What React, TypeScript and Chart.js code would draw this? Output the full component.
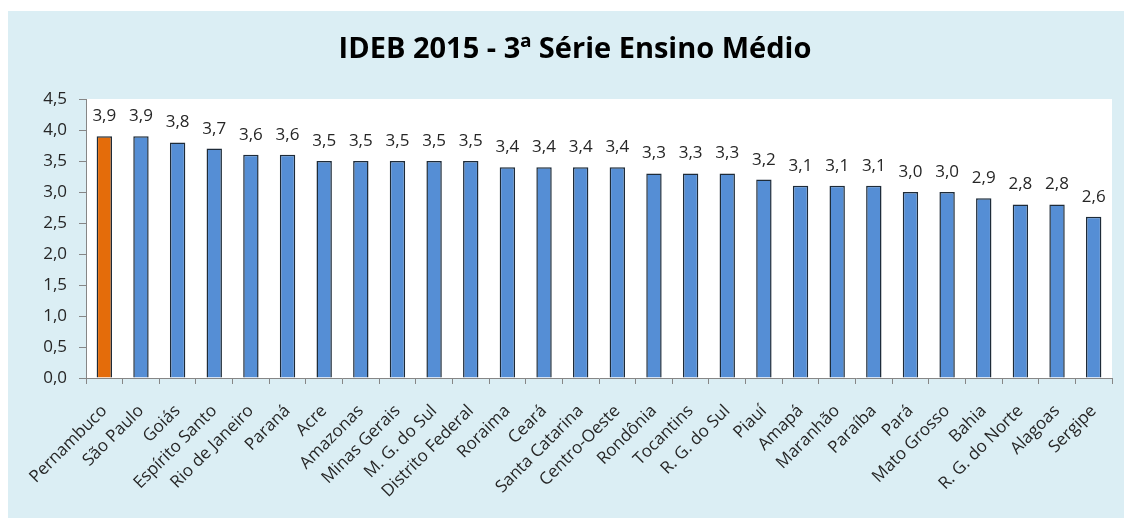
import React, { useEffect, useRef } from "react";
import { Chart, registerables } from "chart.js";

Chart.register(...registerables);

const TITLE = "IDEB 2015 - 3ª Série Ensino Médio";

const categories = [
  "Pernambuco", "São Paulo", "Goiás", "Espírito Santo", "Rio de Janeiro", "Paraná",
  "Acre", "Amazonas", "Minas Gerais", "M. G. do Sul", "Distrito Federal", "Roraima",
  "Ceará", "Santa Catarina", "Centro-Oeste", "Rondônia", "Tocantins", "R. G. do Sul",
  "Piauí", "Amapá", "Maranhão", "Paraíba", "Pará", "Mato Grosso", "Bahia",
  "R. G. do Norte", "Alagoas", "Sergipe",
];

const values = [
  3.9, 3.9, 3.8, 3.7, 3.6, 3.6, 3.5, 3.5, 3.5, 3.5, 3.5, 3.4, 3.4, 3.4, 3.4,
  3.3, 3.3, 3.3, 3.2, 3.1, 3.1, 3.1, 3.0, 3.0, 2.9, 2.8, 2.8, 2.6,
];

const highlighted = ["Pernambuco"];

const yMin = 0;
const yMax = 4.5;
const yStep = 0.5;

const BLUE = "#558ED5";
const ORANGE = "#E46C0A";
const BG = "#DBEEF4";
const AXIS = "#868686";
const TEXT = "#262626";
const FONT = "'Open Sans', sans-serif";

const fmt = (v: number) => v.toFixed(1).replace(".", ",");

const bgPlugin = {
  id: "bgPlugin",
  beforeDraw(chart: any) {
    const { ctx, chartArea } = chart;
    ctx.save();
    ctx.fillStyle = BG;
    ctx.fillRect(0, 0, chart.width, chart.height);
    ctx.fillStyle = "#FFFFFF";
    ctx.fillRect(chartArea.left, chartArea.top, chartArea.right - chartArea.left, chartArea.bottom - chartArea.top);
    ctx.restore();
  },
};

const titlePlugin = {
  id: "titlePlugin",
  afterDraw(chart: any) {
    const { ctx } = chart;
    ctx.save();
    ctx.font = `bold 29px ${FONT}`;
    ctx.fillStyle = "#000000";
    ctx.textAlign = "center";
    ctx.textBaseline = "middle";
    ctx.fillText(TITLE, chart.width / 2 + 9, 39);
    ctx.restore();
  },
};

const labelPlugin = {
  id: "labelPlugin",
  afterDatasetsDraw(chart: any) {
    const { ctx } = chart;
    const meta = chart.getDatasetMeta(0);
    ctx.save();
    ctx.font = `17px ${FONT}`;
    ctx.fillStyle = TEXT;
    ctx.textAlign = "center";
    ctx.textBaseline = "alphabetic";
    meta.data.forEach((bar: any, i: number) => {
      ctx.fillText(fmt(values[i]), bar.x, bar.y - 15);
    });
    ctx.restore();
  },
};

export default function App() {
  const ref = useRef<HTMLCanvasElement>(null);

  useEffect(() => {
    if (!ref.current) return;
    const chart = new Chart(ref.current, {
      type: "bar",
      data: {
        labels: categories,
        datasets: [
          {
            data: values,
            backgroundColor: categories.map((c) => (highlighted.includes(c) ? ORANGE : BLUE)),
            borderColor: "#1E2B38",
            borderWidth: 1.5,
            categoryPercentage: 1,
            barPercentage: 0.42,
          },
        ],
      },
      options: {
        animation: false,
        responsive: false,
        devicePixelRatio: 1,
        layout: { padding: { left: 0, right: 12, top: 88, bottom: 0 } },
        plugins: {
          legend: { display: false },
          tooltip: { enabled: false },
          title: { display: false },
        },
        scales: {
          x: {
            afterFit(scale: any) {
              scale.height = 140;
              scale.paddingLeft = 0;
              scale.paddingRight = 0;
            },
            grid: { drawOnChartArea: false, drawTicks: true, tickLength: 6, color: AXIS, offset: true },
            border: { display: true, color: AXIS, width: 1 },
            ticks: {
              autoSkip: false,
              maxRotation: 45,
              minRotation: 45,
              padding: 17,
              color: TEXT,
              font: { family: FONT, size: 17 },
            },
          },
          y: {
            min: yMin,
            max: yMax,
            afterFit(scale: any) {
              scale.width = 78;
            },
            grid: { drawOnChartArea: false, drawTicks: true, tickLength: 7, color: AXIS },
            border: { display: true, color: AXIS, width: 1 },
            ticks: {
              stepSize: yStep,
              padding: 12,
              color: TEXT,
              font: { family: FONT, size: 17 },
              callback: (v: any) => fmt(Number(v)),
            },
          },
        },
      },
      plugins: [bgPlugin, labelPlugin, titlePlugin],
    });
    return () => chart.destroy();
  }, []);

  return (
    <div style={{ position: "fixed", left: 8, top: 11, width: 1116, height: 507, background: BG }}>
      <canvas ref={ref} width={1116} height={507} style={{ display: "block" }} />
    </div>
  );
}
